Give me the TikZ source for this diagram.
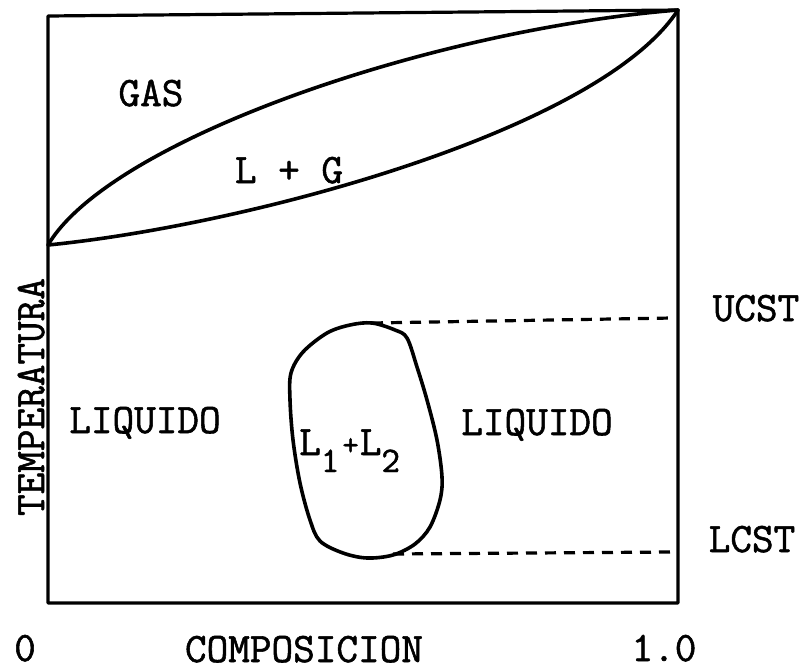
\documentclass[tikz,border=0pt]{standalone}
\usepackage{fontspec}
\newfontfamily\typew{Latin Modern Mono}[FakeBold=1.3]
\begin{document}
\begin{tikzpicture}[x=1pt,y=-1pt,
  frame/.style={line width=3.2pt, line join=round},
  curve/.style={line width=3.6pt, line cap=round, line join=round},
  dashline/.style={line width=3.2pt, dash pattern=on 11pt off 8pt},
  lbl/.style={font=\fontsize{42}{48}\selectfont\typew, inner sep=0pt, anchor=base}]
\fill[white] (0,0) rectangle (807,670);
\useasboundingbox (0,0) rectangle (807,670);
% frame
\coordinate (tl) at (48,16);
\coordinate (tr) at (678,10);
\coordinate (br) at (678,603);
\coordinate (bl) at (48,603);
\draw[frame] (tl) -- (tr) -- (br) -- (bl) -- cycle;
% vapour-liquid lens
\coordinate (a) at (48,245);
\draw[curve] (a) .. controls (110,140) and (430,30) .. (tr);
\draw[curve] (a) .. controls (250,225) and (600,130) .. (tr);
% miscibility gap loop
\draw[curve] plot[smooth cycle, tension=0.55] coordinates {(350,325) (372,323) (395,330) (407,338) (417,367) (427,400) (437,440) (442,477) (440,500) (430,527) (415,544) (393,555) (367,558) (343,553) (320,541) (310,520) (300,483) (293,440) (290,400) (291,373) (303,352) (327,333)};
% critical lines
\coordinate (u1) at (372,323);
\coordinate (u2) at (672,318);
\coordinate (l1) at (393,554);
\coordinate (l2) at (672,552);
\draw[dashline] (u1) -- (u2);
\draw[dashline] (l1) -- (l2);
% labels
\node[lbl] (gas) at (151,106) {GAS};
\node[lbl] (lg) at (289,183) {L + G};
\node[lbl] (liq1) at (145,433) {LIQUIDO};
\node[lbl] (liq2) at (537,435) {LIQUIDO};
\node[lbl, anchor=base west] (l12) at (299,455) {L\raisebox{-17pt}{\fontsize{36}{36}\selectfont 1}\hspace{3pt}{\fontsize{32}{32}\selectfont +}\hspace{1pt}L\raisebox{-17pt}{\fontsize{36}{36}\selectfont 2}};
\node[lbl] (ucst) at (756,321) {UCST};
\node[lbl] (lcst) at (752,552) {LCST};
\node[lbl, rotate=90] (temp) at (44,397) {TEMPERATURA};
\node[lbl] (zero) at (25,661) {0};
\node[lbl] (comp) at (304,662) {COMPOSICION};
\node[lbl] (one) at (664,661) {1.0};
\end{tikzpicture}
\end{document}
